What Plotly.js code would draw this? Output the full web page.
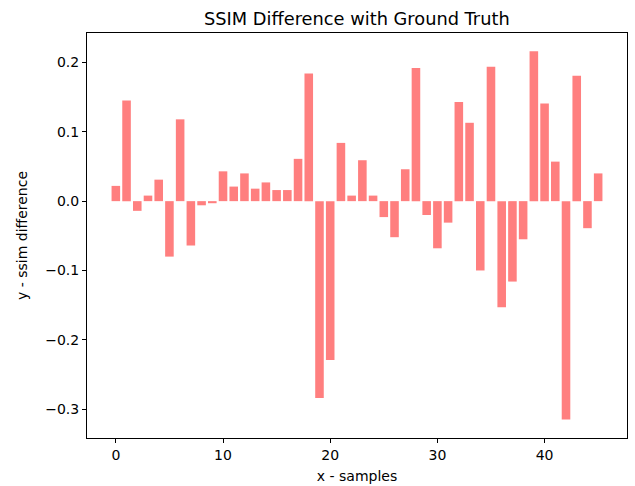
<!DOCTYPE html>
<html>
<head>
<meta charset="utf-8">
<script src="https://cdn.plot.ly/plotly-3.0.1.min.js"></script>
<style>html,body{margin:0;padding:0;background:#fff;}</style>
</head>
<body>
<div id="chart" style="width:635px;height:486px;"></div>
<script>
var samples = [];
for (var i = 0; i < 46; i++) samples.push(i);
var ssimDiff = [0.022, 0.145, -0.014, 0.008, 0.031, -0.080, 0.118, -0.064, -0.006, -0.003,
  0.043, 0.021, 0.040, 0.018, 0.027, 0.016, 0.016, 0.061, 0.184, -0.284,
  -0.229, 0.084, 0.008, 0.059, 0.008, -0.023, -0.052, 0.046, 0.192, -0.020,
  -0.068, -0.031, 0.143, 0.113, -0.100, 0.194, -0.153, -0.116, -0.055, 0.216,
  0.141, 0.057, -0.315, 0.181, -0.039, 0.040];
var yTicks = [-0.3, -0.2, -0.1, 0.0, 0.1, 0.2];
var xTicks = [0, 10, 20, 30, 40];

var font = 'DejaVu Sans, sans-serif';
Plotly.newPlot('chart', [{
  type: 'bar',
  x: samples,
  y: ssimDiff,
  width: 0.8,
  marker: {color: 'rgba(255,0,0,0.5)', line: {width: 0}}
}], {
  width: 635, height: 486,
  margin: {l: 87, r: 8, t: 33, b: 48},
  paper_bgcolor: '#fff', plot_bgcolor: '#fff',
  font: {family: font, color: '#000', size: 14},
  title: {text: 'SSIM Difference with Ground Truth', font: {family: font, size: 17.8, color: '#000'}, x: 0.562, xanchor: 'center', y: 0.962, yanchor: 'middle'},
  xaxis: {
    range: [-2.69, 47.69], tickvals: xTicks, ticks: 'outside', ticklen: 4, tickwidth: 1, tickcolor: '#000',
    showgrid: false, zeroline: false, showline: true, linecolor: '#000', linewidth: 1, mirror: true,
    title: {text: 'x - samples', font: {family: font, size: 14}, standoff: 9},
    tickfont: {size: 14}
  },
  yaxis: {
    range: [-0.3416, 0.2425], tickvals: yTicks, tickformat: '.1f', ticks: 'outside', ticklen: 4, tickwidth: 1, tickcolor: '#000',
    showgrid: false, zeroline: false, showline: true, linecolor: '#000', linewidth: 1, mirror: true,
    title: {text: 'y - ssim difference', font: {family: font, size: 14}, standoff: 14},
    tickfont: {size: 14}
  },
  showlegend: false
}, {displayModeBar: false, staticPlot: true});
</script>
</body>
</html>
